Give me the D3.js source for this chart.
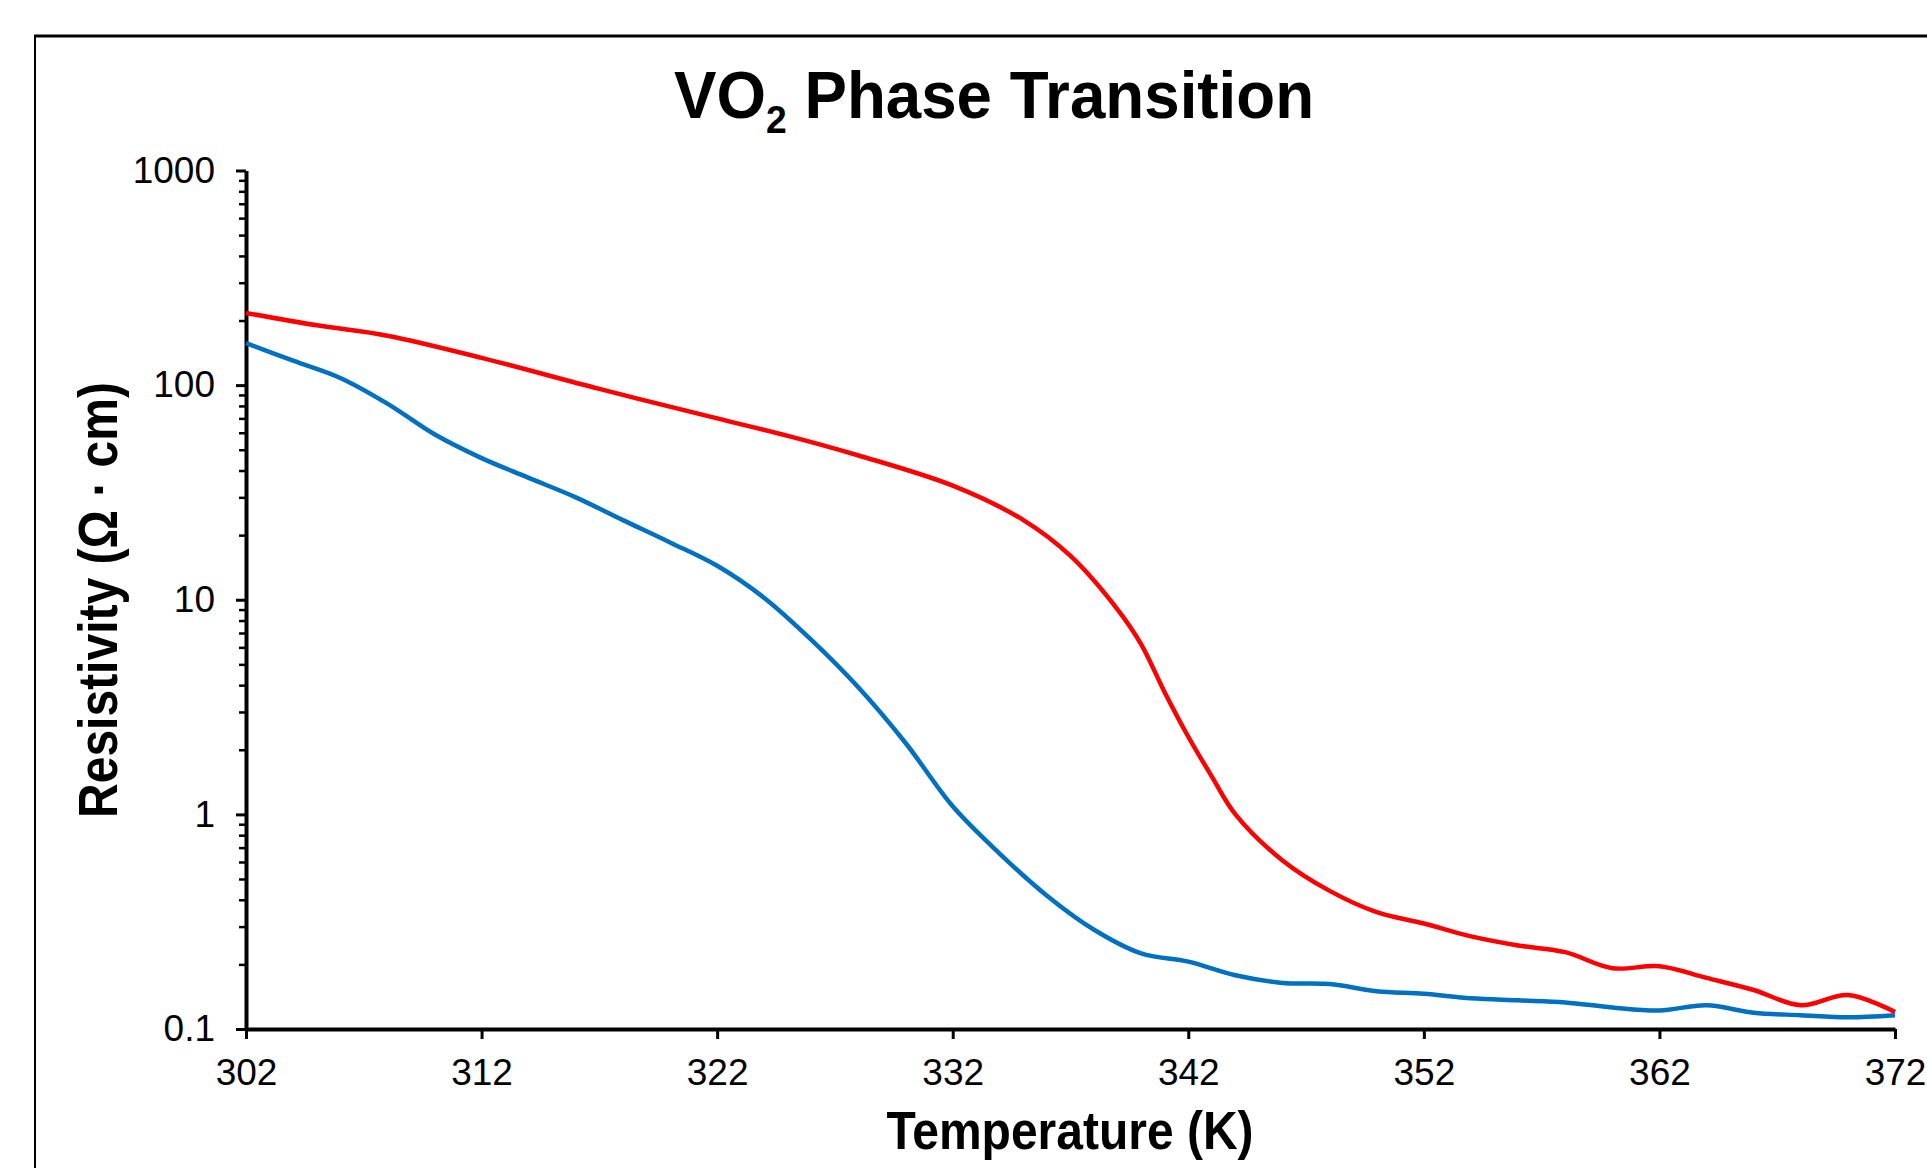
<!DOCTYPE html>
<html>
<head>
<meta charset="utf-8">
<script src="https://cdn.jsdelivr.net/npm/d3@7"></script>
<style>
  body { margin: 0; background: #fff; }
  text { font-family: "Liberation Sans", Arial, sans-serif; fill: #000; }
</style>
</head>
<body>
<div class="chart"></div>
<script>
const w = 1927;
const h = 1168;

// heating curve (red)
const tempRed = [302, 305, 308, 312, 317, 322, 325, 328, 332, 335, 337, 339, 340, 341, 342, 343, 344, 346, 348, 350, 352, 354, 356, 358, 360, 362, 364, 366, 368, 370, 372];
const resRed = [217, 190, 170, 134, 96, 70, 58, 47, 34, 23.5, 16, 9.0, 6.2, 3.7, 2.3, 1.5, 1.0, 0.61, 0.44, 0.35, 0.31, 0.27, 0.245, 0.228, 0.192, 0.196, 0.173, 0.152, 0.129, 0.144, 0.12];

// cooling curve (blue)
const tempBlue = [302, 304, 306, 308, 310, 312, 314, 316, 318, 320, 322, 324, 326, 328, 330, 332, 334, 336, 338, 340, 342, 344, 346, 348, 350, 352, 354, 356, 358, 360, 362, 364, 366, 368, 370, 372];
const resBlue = [157, 130, 108, 82, 59, 45.7, 37, 30, 23.5, 18.5, 14.4, 10.2, 6.5, 3.9, 2.15, 1.09, 0.655, 0.418, 0.29, 0.225, 0.206, 0.178, 0.164, 0.162, 0.150, 0.146, 0.139, 0.136, 0.133, 0.126, 0.122, 0.129, 0.119, 0.116, 0.1135, 0.116];

const xTicks = [302, 312, 322, 332, 342, 352, 362, 372];
const yTicks = [0.1, 1, 10, 100, 1000];

const svg = d3.select(".chart")
  .append("svg")
  .attr("width", w)
  .attr("height", h);

// outer frame (only top and left edges fall inside the picture)
svg.append("line").attr("x1", 34).attr("x2", w).attr("y1", 36).attr("y2", 36)
  .attr("stroke", "#000").attr("stroke-width", 3);
svg.append("line").attr("x1", 35).attr("x2", 35).attr("y1", 36).attr("y2", h)
  .attr("stroke", "#000").attr("stroke-width", 2);

const x = d3.scaleLinear().domain([302, 372]).range([246, 1895]);
const y = d3.scaleLog().domain([0.1, 1000]).range([1029, 170.5]);

// minor log ticks 2..9 per decade
let minor = [];
yTicks.slice(0, -1).forEach(d => {
  for (let k = 2; k <= 9; k++) minor.push(d * k);
});

svg.append("g")
  .attr("transform", "translate(246,0)")
  .call(d3.axisLeft(y).tickValues(minor).tickSize(7).tickFormat(""))
  .call(g => g.select(".domain").remove())
  .call(g => g.selectAll("line").attr("stroke-width", 2.5));

const yAxis = svg.append("g")
  .attr("transform", "translate(246,0)")
  .call(d3.axisLeft(y).tickValues(yTicks).tickSize(10).tickSizeOuter(0).tickPadding(21)
    .tickFormat(d => d3.format("~g")(d)));
yAxis.select(".domain").attr("stroke-width", 4);
yAxis.selectAll("line").attr("stroke-width", 3);
yAxis.selectAll("text").attr("font-size", "37px").attr("font-family", "Liberation Sans, Arial, sans-serif");

const xAxis = svg.append("g")
  .attr("transform", "translate(0,1029)")
  .call(d3.axisBottom(x).tickValues(xTicks).tickSize(10).tickSizeOuter(0).tickPadding(20));
xAxis.select(".domain").attr("stroke-width", 4);
xAxis.selectAll("line").attr("stroke-width", 3);
xAxis.selectAll("text").attr("font-size", "37px").attr("font-family", "Liberation Sans, Arial, sans-serif");

const line = d3.line()
  .x(d => x(d[0]))
  .y(d => y(d[1]))
  .curve(d3.curveCatmullRom.alpha(0.5));

svg.append("path")
  .datum(tempBlue.map((t, i) => [t, resBlue[i]]))
  .attr("fill", "none")
  .attr("stroke", "#0070C0")
  .attr("stroke-width", 4.5)
  .attr("d", line);

svg.append("path")
  .datum(tempRed.map((t, i) => [t, resRed[i]]))
  .attr("fill", "none")
  .attr("stroke", "#FF0000")
  .attr("stroke-width", 4.5)
  .attr("d", line);

// title
const title = svg.append("text")
  .attr("transform", "translate(994,118) scale(0.98,1.03)")
  .attr("text-anchor", "middle")
  .attr("font-size", "65px")
  .attr("font-weight", "bold");
title.append("tspan").text("VO");
title.append("tspan").attr("font-size", "38px").attr("dy", 15).text("2");
title.append("tspan").attr("dy", -15).text(" Phase Transition");

svg.append("text")
  .attr("transform", "translate(1070,1149) scale(1,1.1)")
  .attr("text-anchor", "middle")
  .attr("font-size", "48px")
  .attr("font-weight", "bold")
  .text("Temperature (K)");

svg.append("text")
  .attr("transform", "translate(117,600) rotate(-90) scale(1,1.15)")
  .attr("text-anchor", "middle")
  .attr("font-size", "48px")
  .attr("font-weight", "bold")
  .text("Resistivity (Ω · cm)");
</script>
</body>
</html>
